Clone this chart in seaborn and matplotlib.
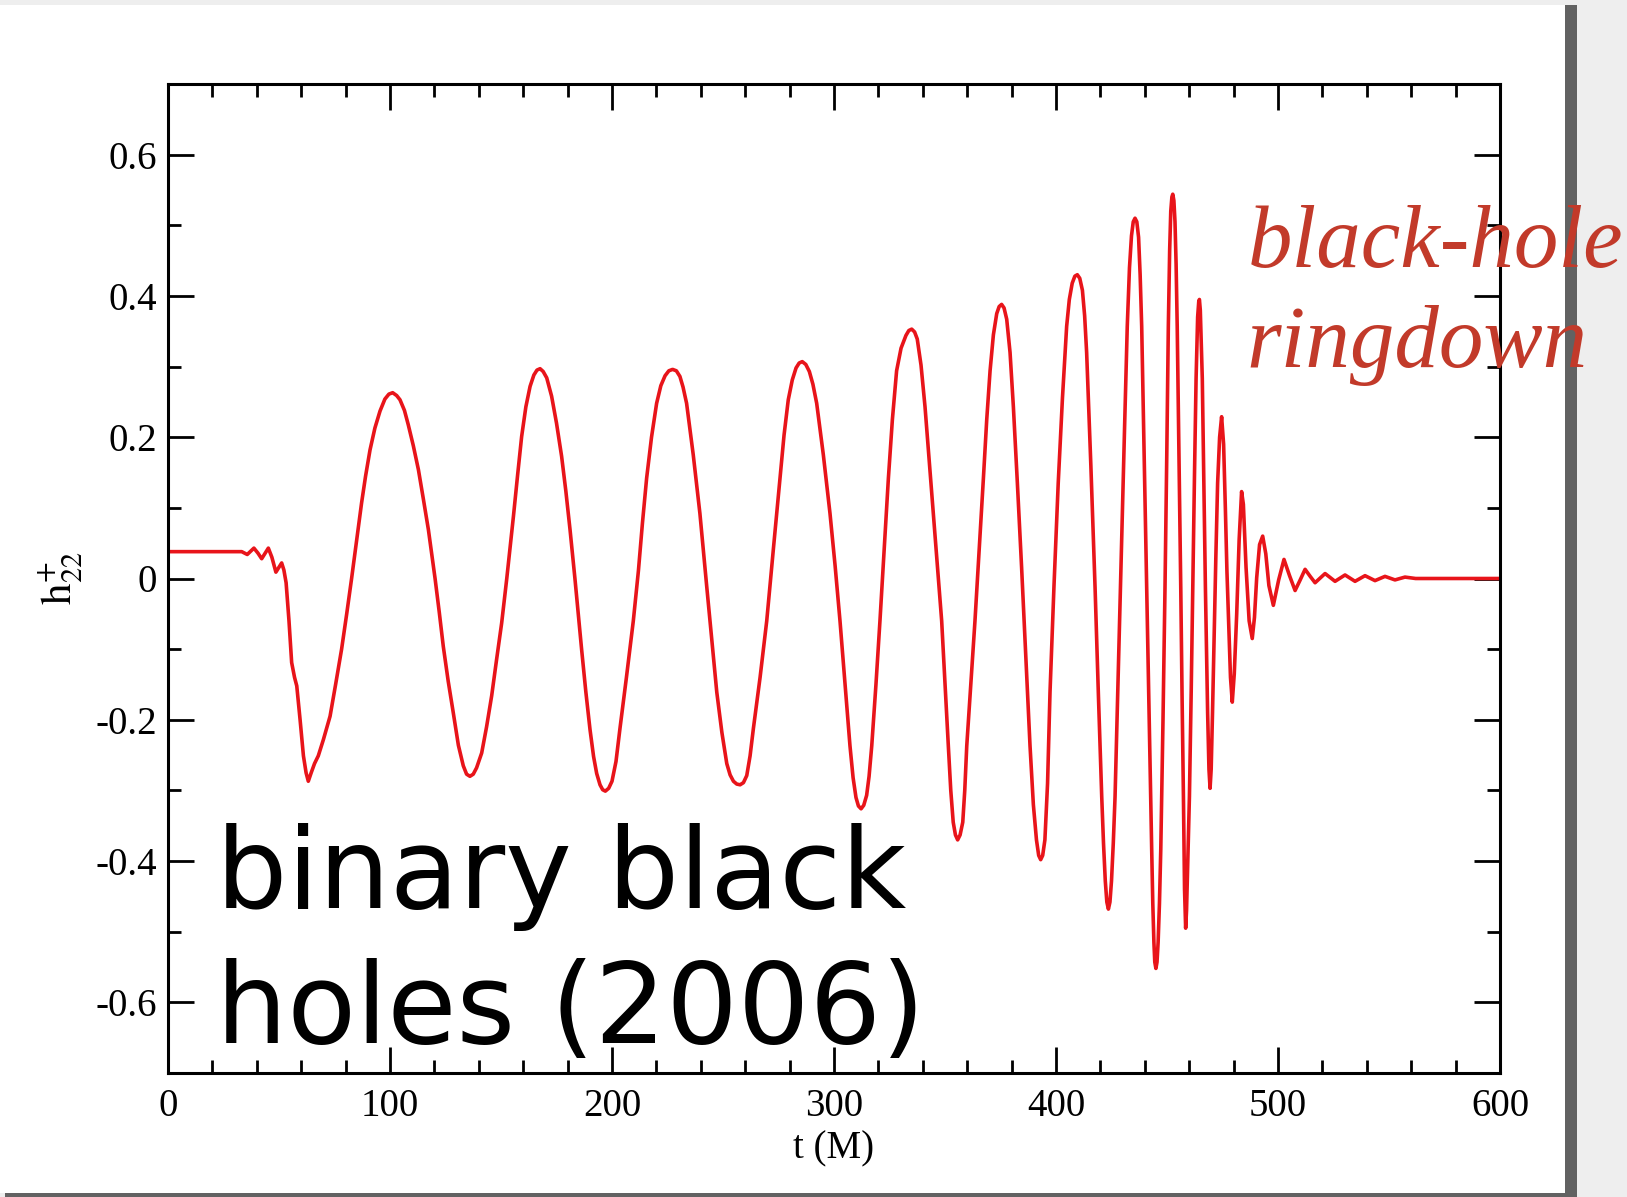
import numpy as np
import pandas as pd
import matplotlib
matplotlib.use("Agg")
import matplotlib.pyplot as plt
from matplotlib.patches import Rectangle
from matplotlib.ticker import MultipleLocator, FuncFormatter
import seaborn as sns

# ---- data (t in M, h22+ strain) ----
t_M = [
    0, 33.2, 35.7, 38.7, 40.5, 42.2, 43.8, 45.2, 46.8, 48.6, 50.0, 51.2, 52.2, 53.2,
    54.5, 55.7, 57.0, 58.0, 59.5, 61.0, 62.2, 63.2, 64.5, 66.0, 67.7, 70.0, 73.0, 75.5, 78.2, 80.5, 82.7,
    85.0, 87.2, 89.0, 91.0, 93.2, 95.5, 97.7, 99.5, 101.2, 103.0, 104.5, 106.5, 108.2, 110.5, 112.8, 115.0, 117.3, 120.3,
    122.2, 124.0, 126.2, 128.5, 130.8, 133.0, 134.5, 136.0, 137.5, 139.0, 141.3, 143.5, 145.8, 148.0, 150.3, 152.6,
    155.6, 157.5, 159.3, 161.2, 163.1, 164.8, 166.2, 167.6, 169.0, 170.6, 172.8, 175.0, 177.3, 179.2, 181.1, 183.3,
    186.3, 188.2, 190.1, 191.7, 193.1, 194.6, 195.8, 197.0, 198.5, 200.0, 201.8, 203.6, 206.5, 209.6, 211.9,
    213.7, 215.6, 217.8, 220.1, 222.0, 223.9, 225.6, 227.3, 229.0, 230.6, 232.0, 233.6, 236.6, 239.6, 242.6,
    245.0, 247.2, 249.5, 251.7, 253.2, 254.7, 256.2, 257.7, 259.2, 260.7, 262.2, 263.7, 266.7, 269.7, 272.7,
    275.7, 277.5, 279.4, 281.2, 282.9, 284.3, 285.7, 287.3, 288.9, 290.5, 292.2, 295.2, 298.2, 300.5,
    302.7, 305.0, 307.2, 308.6, 309.9, 311.0, 312.2, 313.4, 314.7, 315.8, 317.0, 318.9, 320.7, 322.6,
    324.5, 326.3, 328.2, 330.2, 332.4, 333.7, 335.0, 336.3, 337.5, 339.2, 341.0, 342.8, 344.7, 346.6,
    348.5, 350.0, 351.5, 352.6, 353.7, 354.7, 355.7, 356.8, 358.0, 358.9, 359.8, 361.6, 363.5, 365.4,
    367.3, 368.8, 370.3, 371.8, 373.3, 374.4, 375.5, 376.6, 377.8, 379.3, 380.8, 382.6, 384.5,
    386.4, 388.3, 389.8, 391.2, 392.2, 393.1, 394.0, 395.0, 396.2, 397.3, 399.1,
    401.0, 402.9, 404.8, 406.0, 407.3, 408.5, 409.6, 410.7, 411.9, 412.9, 413.8, 415.7, 417.6,
    419.1, 420.6, 421.4, 422.2, 422.9, 423.6, 424.3, 425.0, 425.8, 426.6, 428.1, 429.6,
    430.9, 432.1, 433.1, 434.0, 434.8, 435.6, 436.4, 437.2, 437.9, 438.6, 439.7, 440.8,
    442.0, 443.1, 443.6, 444.1, 444.5, 445.0, 445.5, 446.0, 446.6, 447.2, 448.2, 449.1,
    449.9, 450.6, 451.2, 451.7, 452.2, 452.6, 453.1, 453.6, 454.1, 454.6, 455.4, 456.2,
    456.8, 457.4, 457.9, 458.4, 458.8, 459.2, 460.1, 460.9, 461.6,
    462.4, 463.1, 463.8, 464.3, 464.6, 465.0, 465.9, 466.6, 467.3, 468.3, 468.9, 469.4, 469.9, 470.5,
    471.2, 472.0, 472.8, 473.7, 474.6, 475.5, 476.3, 477.0, 477.8, 478.6, 479.4, 480.3, 481.4, 482.5, 483.6, 484.4, 485.6,
    487.0, 488.4, 489.4, 490.4, 491.7, 493.1, 494.5, 495.9, 497.9, 500.3, 502.7, 505.2, 507.7, 510.0,
    512.2, 514.5, 516.7, 521.2, 525.7, 530.2, 534.7, 539.2, 543.7, 548.2, 552.7, 557.2, 562.0, 600.0,
]
h22_plus = [
    0.038, 0.038, 0.034, 0.043, 0.036, 0.028, 0.036, 0.043, 0.030, 0.009, 0.016, 0.022, 0.012, -0.006,
    -0.060, -0.119, -0.140, -0.152, -0.200, -0.251, -0.275, -0.287, -0.275, -0.262, -0.251, -0.228, -0.195, -0.150, -0.100, -0.050, 0.000,
    0.055, 0.107, 0.145, 0.182, 0.213, 0.237, 0.254, 0.261, 0.263, 0.259, 0.253, 0.238, 0.218, 0.188, 0.154, 0.113, 0.069, 0.000,
    -0.048, -0.096, -0.145, -0.190, -0.236, -0.265, -0.277, -0.280, -0.277, -0.268, -0.247, -0.210, -0.166, -0.115, -0.063, 0.000,
    0.088, 0.147, 0.201, 0.243, 0.272, 0.288, 0.295, 0.297, 0.293, 0.284, 0.258, 0.220, 0.173, 0.124, 0.069, 0.000,
    -0.100, -0.160, -0.214, -0.252, -0.276, -0.292, -0.299, -0.301, -0.297, -0.287, -0.259, -0.212, -0.140, -0.060, 0.011,
    0.078, 0.142, 0.200, 0.248, 0.273, 0.287, 0.294, 0.296, 0.294, 0.286, 0.271, 0.248, 0.175, 0.092, -0.009,
    -0.088, -0.161, -0.218, -0.262, -0.278, -0.287, -0.291, -0.292, -0.289, -0.279, -0.251, -0.212, -0.140, -0.060, 0.042,
    0.142, 0.203, 0.253, 0.281, 0.298, 0.305, 0.307, 0.303, 0.293, 0.275, 0.248, 0.175, 0.092, 0.018,
    -0.060, -0.150, -0.237, -0.282, -0.310, -0.322, -0.326, -0.321, -0.307, -0.280, -0.237, -0.150, -0.060, 0.042,
    0.142, 0.225, 0.294, 0.326, 0.344, 0.351, 0.353, 0.349, 0.339, 0.302, 0.243, 0.170, 0.092, 0.016,
    -0.060, -0.150, -0.237, -0.300, -0.345, -0.363, -0.370, -0.363, -0.345, -0.300, -0.237, -0.150, -0.060, 0.040,
    0.142, 0.225, 0.294, 0.345, 0.375, 0.385, 0.388, 0.383, 0.367, 0.320, 0.243, 0.135, 0.016,
    -0.110, -0.237, -0.320, -0.370, -0.392, -0.398, -0.392, -0.370, -0.290, -0.161, -0.010,
    0.135, 0.255, 0.357, 0.395, 0.418, 0.428, 0.430, 0.425, 0.408, 0.372, 0.320, 0.160, -0.013,
    -0.165, -0.309, -0.375, -0.428, -0.458, -0.468, -0.458, -0.428, -0.375, -0.309, -0.125, 0.061,
    0.215, 0.357, 0.440, 0.485, 0.505, 0.510, 0.505, 0.483, 0.430, 0.357, 0.175, -0.013,
    -0.200, -0.383, -0.460, -0.515, -0.543, -0.552, -0.543, -0.515, -0.460, -0.383, -0.200, -0.013,
    0.175, 0.357, 0.465, 0.520, 0.540, 0.544, 0.535, 0.505, 0.445, 0.357, 0.170, -0.013,
    -0.170, -0.309, -0.440, -0.495, -0.470, -0.420, -0.309, -0.160, -0.013,
    0.150, 0.283, 0.370, 0.392, 0.395, 0.380, 0.283, 0.140, -0.013, -0.190, -0.270, -0.297, -0.270, -0.190,
    -0.087, 0.030, 0.135, 0.200, 0.229, 0.190, 0.098, 0.010, -0.065, -0.140, -0.175, -0.135, -0.050, 0.055, 0.123, 0.105, 0.016,
    -0.060, -0.085, -0.055, 0.001, 0.048, 0.060, 0.035, -0.010, -0.038, -0.002, 0.027, 0.004, -0.017, -0.002,
    0.013, 0.003, -0.006, 0.007, -0.004, 0.005, -0.004, 0.004, -0.003, 0.003, -0.002, 0.002, 0.000, 0.000,
]
assert len(t_M) == len(h22_plus)

x_ticks = [0, 100, 200, 300, 400, 500, 600]
y_ticks = [-0.6, -0.4, -0.2, 0.0, 0.2, 0.4, 0.6]
x_label = "t (M)"
y_label = r"$\mathrm{h}^{+}_{22}$"
caption_lines = ["binary black", "holes (2006)"]
ringdown_lines = ["black-hole", "ringdown"]

df = pd.DataFrame({"t": t_M, "h": h22_plus})

# ---- style ----
sns.set_theme(style="ticks")
plt.rcParams["font.family"] = ["Liberation Serif", "DejaVu Serif"]
plt.rcParams["mathtext.fontset"] = "stix"
plt.rcParams["axes.unicode_minus"] = False

W, H = 1627, 1197
fig = plt.figure(figsize=(W / 100, H / 100), dpi=100)
fig.patch.set_facecolor("#eeeeee")

# page card with grey shadow
fig.patches.append(Rectangle((5 / W, 0), (1577 - 5) / W, (H - 5) / H,
                             transform=fig.transFigure, facecolor="#626262",
                             edgecolor="none", zorder=-3))
fig.patches.append(Rectangle((0, 4 / H), 1565 / W, (1193 - 5) / H,
                             transform=fig.transFigure, facecolor="white",
                             edgecolor="none", zorder=-2))

ax = fig.add_axes([168 / W, 124 / H, 1332 / W, 989 / H])
ax.set_facecolor("white")

sns.lineplot(data=df, x="t", y="h", ax=ax, color="#e8141a", linewidth=2.6,
             estimator=None, sort=False)

ax.set_xlim(0, 600)
ax.set_ylim(-0.7, 0.7)
ax.set_xticks(x_ticks)
ax.set_yticks(y_ticks)
ax.xaxis.set_minor_locator(MultipleLocator(20))
ax.yaxis.set_minor_locator(MultipleLocator(0.1))
ax.xaxis.set_major_formatter(FuncFormatter(lambda v, _: f"{v:.0f}"))
ax.yaxis.set_major_formatter(FuncFormatter(lambda v, _: "0" if abs(v) < 1e-9 else f"{v:.1f}"))

for s in ax.spines.values():
    s.set_linewidth(2.2)
    s.set_color("black")
    s.set_visible(True)

ax.tick_params(which="both", direction="in", top=True, right=True,
               color="black", width=2.0)
ax.tick_params(which="major", length=19, labelsize=28, labelcolor="black")
ax.tick_params(which="minor", length=9.5)
ax.tick_params(axis="y", which="major", pad=8)
ax.tick_params(axis="x", which="major", pad=10.5)

ax.set_xlabel(x_label, fontsize=28, color="black")
ax.set_ylabel(y_label, fontsize=31, color="black")
ax.xaxis.set_label_coords(0.5, -0.058)
ax.yaxis.set_label_coords(-0.062, 0.5)
ax.xaxis.label.set_va("top")

# overlay texts
fig.text(216 / W, 1 - 908 / H, caption_lines[0], fontsize=81, color="black",
         family="DejaVu Sans", va="baseline", ha="left", zorder=10)
fig.text(216 / W, 1 - 1043 / H, caption_lines[1], fontsize=81, color="black",
         family="DejaVu Sans", va="baseline", ha="left", zorder=10)
fig.text(1248 / W, 1 - 267 / H, ringdown_lines[0], fontsize=64, color="#c23a2a",
         family="Liberation Serif", style="italic", va="baseline", ha="left", zorder=10)
fig.text(1246 / W, 1 - 367 / H, ringdown_lines[1], fontsize=64, color="#c23a2a",
         family="Liberation Serif", style="italic", va="baseline", ha="left", zorder=10)

fig.savefig("out.png", dpi=100, facecolor=fig.get_facecolor())
